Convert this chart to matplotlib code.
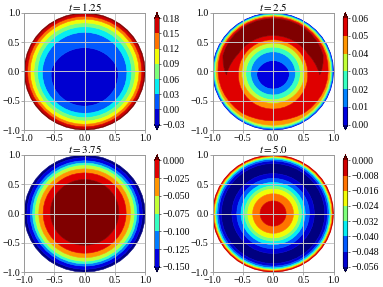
import numpy as np
import matplotlib.pyplot as plt
import matplotlib.tri as mtri

plt.rcParams['font.family'] = ['Liberation Serif', 'DejaVu Serif']
plt.rcParams['mathtext.fontset'] = 'stix'
plt.rcParams['axes.unicode_minus'] = True

# snapshots of the solution on the unit disk: radial profiles
times = ["1.25", "2.5", "3.75", "5.0"]

r1 = [0.0, 0.2, 0.39, 0.56, 0.7, 0.78, 0.84, 0.90, 0.945, 0.985, 1.0]
u1 = [-0.02, -0.017, -0.008, 0.0, 0.03, 0.06, 0.09, 0.12, 0.15, 0.18, 0.19]
lev1 = [-0.03, 0.0, 0.03, 0.06, 0.09, 0.12, 0.15, 0.18]
tilt1 = (0.03, 0.0)      # (slope in y, radius where the tilt starts to fade)

r2 = [0.0, 0.27, 0.37, 0.45, 0.52, 0.57, 0.65, 0.78, 0.88, 0.915, 0.94, 0.96, 0.975, 0.99, 1.0]
u2 = [0.004, 0.01, 0.02, 0.03, 0.04, 0.05, 0.057, 0.0607, 0.057, 0.05, 0.04, 0.03, 0.02, 0.01, 0.004]
lev2 = [0.0, 0.01, 0.02, 0.03, 0.04, 0.05, 0.06]
tilt2 = (0.01, 0.9)

r3 = [0.0, 0.3, 0.57, 0.69, 0.76, 0.82, 0.86, 0.90, 0.955, 1.0]
u3 = [0.03, 0.025, 0.0, -0.025, -0.05, -0.075, -0.1, -0.125, -0.15, -0.17]
lev3 = [-0.150, -0.125, -0.100, -0.075, -0.050, -0.025, 0.000]
tilt3 = (0.01, 0.0)

r4 = [0.0, 0.22, 0.34, 0.42, 0.47, 0.53, 0.6, 0.68, 0.78, 0.86, 0.9, 0.93, 0.95, 0.965, 0.975, 0.985, 1.0]
u4 = [-0.002, -0.008, -0.016, -0.024, -0.032, -0.04, -0.048, -0.056, -0.062, -0.056,
      -0.048, -0.04, -0.032, -0.024, -0.016, -0.008, -0.002]
lev4 = [-0.056, -0.048, -0.040, -0.032, -0.024, -0.016, -0.008, 0.000]
tilt4 = (0.0, 0.0)

# structured polar mesh of the disk
n_rings, n_ang = 40, 40
th = np.linspace(0, 2 * np.pi, n_ang, endpoint=False)
rad = np.arange(1, n_rings + 1) / n_rings
x = np.concatenate([[0.0], (rad[:, None] * np.cos(th)).ravel()])
y = np.concatenate([[0.0], (rad[:, None] * np.sin(th)).ravel()])
triangles = []
for j in range(n_ang):
    triangles.append([0, 1 + j, 1 + (j + 1) % n_ang])
for k in range(n_rings - 1):
    for j in range(n_ang):
        a = 1 + k * n_ang + j
        b = 1 + k * n_ang + (j + 1) % n_ang
        c_ = a + n_ang
        d = b + n_ang
        triangles.append([a, c_, d])
        triangles.append([a, d, b])
tri = mtri.Triangulation(x, y, np.array(triangles))
rr = np.hypot(x, y)

panels = [(r1, u1, lev1, tilt1), (r2, u2, lev2, tilt2),
          (r3, u3, lev3, tilt3), (r4, u4, lev4, tilt4)]

fig = plt.figure(figsize=(3.83, 2.87), dpi=100)
ax_pos = [(0.063, 0.547), (0.555, 0.547), (0.063, 0.052), (0.555, 0.052)]
w, h = 0.316, 0.408
cb_dx = 0.341

for i, (rp, up, lev, (c, fade)) in enumerate(panels):
    px, py = ax_pos[i]
    ax = fig.add_axes([px, py, w, h])
    cax = fig.add_axes([px + cb_dx, py, 0.012, h])
    weight = np.clip((1 - rr) / (1 - fade), 0, 1)
    z = np.interp(rr, rp, up) + c * y * weight
    cs = ax.tricontourf(tri, z, levels=lev, cmap='jet', extend='both', antialiased=True)
    cs.set_edgecolor('face')
    cs.set_linewidth(0.4)
    ax.set_xlim(-1, 1)
    ax.set_ylim(-1, 1)
    ax.set_xticks([-1, -0.5, 0, 0.5, 1])
    ax.set_yticks([-1, -0.5, 0, 0.5, 1])
    ax.grid(True, color='#c8c8c8', linewidth=0.7)
    for s in ax.spines.values():
        s.set_color('#999999')
        s.set_linewidth(0.7)
    ax.tick_params(labelsize=7, length=2, width=0.6, color='#999999', pad=1)
    ax.set_title(r'$t = %s$' % times[i], fontsize=7.8, pad=1.5)
    cb = fig.colorbar(cs, cax=cax, ticks=lev)
    cb.outline.set_linewidth(0.4)
    cb.ax.tick_params(labelsize=7, length=1.5, width=0.4, pad=1)

fig.savefig('out.png', dpi=100)
